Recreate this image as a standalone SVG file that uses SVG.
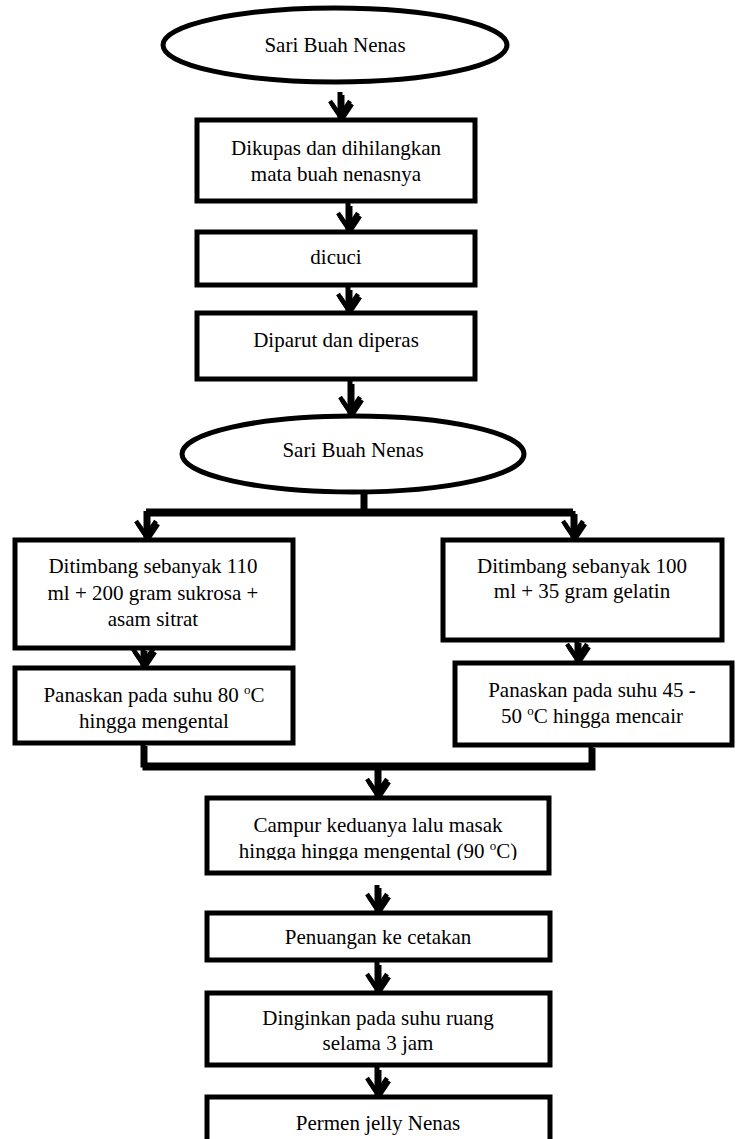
<svg xmlns="http://www.w3.org/2000/svg" width="736" height="1139" viewBox="0 0 736 1139">
  <defs>
    <style>
      .box { fill: #fff; stroke: #000; stroke-width: 5; }
      .oval { fill: #fff; stroke: #000; stroke-width: 5; }
      .lbl { font-family: "Liberation Serif", "Times New Roman", serif; font-size: 21px; fill: #000; text-anchor: middle; }
      .sup { font-size: 13px; }
      .ln { fill: none; stroke: #000; stroke-width: 5; }
      .arr { fill: none; stroke: #000; stroke-width: 5; marker-end: url(#head); }
      .shadow .ln, .shadow .arr { stroke: #9a9a9a; }
      .shadow .arr { marker-end: url(#headGray); }
    </style>
    <marker id="head" markerUnits="userSpaceOnUse" viewBox="-20 -14 24 28" refX="0" refY="0" markerWidth="24" markerHeight="28" orient="auto" overflow="visible">
      <path d="M-17,-10 L-2,0 L-17,10" fill="none" stroke="#000" stroke-width="4.5" stroke-linejoin="miter"/>
    </marker>
    <marker id="headGray" markerUnits="userSpaceOnUse" viewBox="-20 -14 24 28" refX="0" refY="0" markerWidth="24" markerHeight="28" orient="auto" overflow="visible">
      <path d="M-17,-10 L-2,0 L-17,10" fill="none" stroke="#9a9a9a" stroke-width="4.5" stroke-linejoin="miter"/>
    </marker>
    <clipPath id="campurClip">
      <rect x="207" y="798" width="342" height="62"/>
    </clipPath>
    <g id="links">
      <path class="arr" d="M340,92 V118"/>
      <path class="arr" d="M348,203 V230"/>
      <path class="arr" d="M348,287 V311"/>
      <path class="arr" d="M350,381 V414"/>
      <path class="ln" d="M363,491 V511"/>
      <path class="ln" d="M146,511 H573"/>
      <path class="arr" d="M146,511 V538"/>
      <path class="arr" d="M573,511 V538"/>
      <path class="arr" d="M143,648 V666"/>
      <path class="arr" d="M577,640 V661"/>
      <path class="ln" d="M143,743 V765 H591 V745"/>
      <path class="arr" d="M377,765 V796"/>
      <path class="arr" d="M377,885 V911"/>
      <path class="arr" d="M377,962 V991"/>
      <path class="arr" d="M377,1067 V1095"/>
    </g>
  </defs>

  <rect width="736" height="1139" fill="#fff"/>

  <!-- connectors: grey offset shadow under black strokes -->
  <g id="connectors">
    <use href="#links" class="shadow" transform="translate(2,3)"/>
    <use href="#links"/>
  </g>

  <g id="n-start">
    <ellipse class="oval" cx="335" cy="45" rx="172" ry="37"/>
    <text class="lbl" x="335" y="52">Sari Buah Nenas</text>
  </g>

  <g id="n-kupas">
    <rect class="box" x="197" y="120" width="278" height="81"/>
    <text class="lbl" x="336" y="155">Dikupas dan dihilangkan</text>
    <text class="lbl" x="336" y="181">mata buah nenasnya</text>
  </g>

  <g id="n-cuci">
    <rect class="box" x="197" y="232" width="278" height="53"/>
    <text class="lbl" x="336" y="264">dicuci</text>
  </g>

  <g id="n-parut">
    <rect class="box" x="197" y="313" width="278" height="66"/>
    <text class="lbl" x="336" y="347">Diparut dan diperas</text>
  </g>

  <g id="n-sari">
    <ellipse class="oval" cx="353" cy="454" rx="171" ry="38"/>
    <text class="lbl" x="353" y="457">Sari Buah Nenas</text>
  </g>

  <g id="n-timbang-a">
    <rect class="box" x="15" y="540" width="278" height="108"/>
    <text class="lbl" x="153" y="573">Ditimbang sebanyak 110</text>
    <text class="lbl" x="153" y="600">ml + 200 gram sukrosa +</text>
    <text class="lbl" x="153" y="626">asam sitrat</text>
  </g>

  <g id="n-timbang-b">
    <rect class="box" x="443" y="540" width="279" height="100"/>
    <text class="lbl" x="582" y="573">Ditimbang sebanyak 100</text>
    <text class="lbl" x="582" y="598">ml + 35 gram gelatin</text>
  </g>

  <g id="n-panas-a">
    <rect class="box" x="15" y="668" width="278" height="75"/>
    <text class="lbl" x="154" y="702">Panaskan pada suhu 80 <tspan class="sup" dy="-8">o</tspan><tspan dy="8">C</tspan></text>
    <text class="lbl" x="154" y="728">hingga mengental</text>
  </g>

  <g id="n-panas-b">
    <rect class="box" x="455" y="663" width="277" height="82"/>
    <text class="lbl" x="592" y="697">Panaskan pada suhu 45 -</text>
    <text class="lbl" x="592" y="723">50 <tspan class="sup" dy="-8">o</tspan><tspan dy="8">C hingga mencair</tspan></text>
  </g>

  <g id="n-campur">
    <rect class="box" x="207" y="798" width="342" height="75"/>
    <text class="lbl" x="378" y="832">Campur keduanya lalu masak</text>
    <text class="lbl" x="378" y="858" clip-path="url(#campurClip)">hingga hingga mengental (90 <tspan class="sup" dy="-8">o</tspan><tspan dy="8">C)</tspan></text>
  </g>

  <g id="n-tuang">
    <rect class="box" x="207" y="913" width="343" height="47"/>
    <text class="lbl" x="378" y="944">Penuangan ke cetakan</text>
  </g>

  <g id="n-dingin">
    <rect class="box" x="207" y="993" width="343" height="72"/>
    <text class="lbl" x="378" y="1025">Dinginkan pada suhu ruang</text>
    <text class="lbl" x="378" y="1050">selama 3 jam</text>
  </g>

  <g id="n-permen">
    <rect class="box" x="207" y="1097" width="343" height="60"/>
    <text class="lbl" x="378" y="1130">Permen jelly Nenas</text>
  </g>
</svg>
